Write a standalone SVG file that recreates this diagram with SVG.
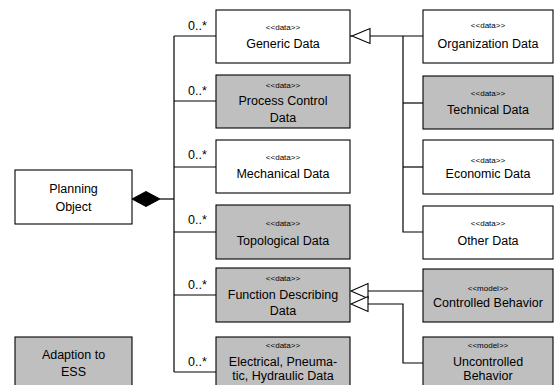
<svg xmlns="http://www.w3.org/2000/svg" width="555" height="385" viewBox="0 0 555 385">
<style>
.box{fill:#ffffff;stroke:#000;stroke-width:1.1}
.gray{fill:#bfbfbf}
.ln{fill:none;stroke:#000;stroke-width:1.2}
.gen{fill:#fff;stroke:#000;stroke-width:1.1}
.dia{fill:#000;stroke:#000;stroke-width:1}
text{font-family:"Liberation Sans",Arial,sans-serif;fill:#000;text-anchor:middle}
.st{font-size:8px}
.t{font-size:12.5px}
.m{font-size:12.5px;text-anchor:start}
</style>
<rect width="555" height="385" fill="#fff"/>
<g id="connectors">
<polygon class="dia" points="132,199 146,191.5 160,199 146,206.5"/>
<polyline class="ln" points="160,199 174,199"/>
<polyline class="ln" points="174,36 174,372"/>
<polyline class="ln" points="174,36 216,36"/>
<polyline class="ln" points="174,101 216,101"/>
<polyline class="ln" points="174,167 216,167"/>
<polyline class="ln" points="174,232 216,232"/>
<polyline class="ln" points="174,295 216,295"/>
<polyline class="ln" points="174,372 216,372"/>
<text class="m" x="188" y="30">0..*</text>
<text class="m" x="188" y="95">0..*</text>
<text class="m" x="188" y="159">0..*</text>
<text class="m" x="188" y="224">0..*</text>
<text class="m" x="188" y="289">0..*</text>
<text class="m" x="188" y="366">0..*</text>
<polyline class="ln" points="340,36 352,36"/>
<polyline class="ln" points="370,36 423,36"/>
<polyline class="ln" points="403,36 403,232 423,232"/>
<polyline class="ln" points="403,103 423,103"/>
<polyline class="ln" points="403,167 423,167"/>
<polygon class="gen" points="352,36 370,28.5 370,43.5"/>
<polyline class="ln" points="368,291 423,291"/>
<polyline class="ln" points="368,304 403,304 403,363 423,363"/>
<polygon class="gen" points="351,291 368,283.5 368,298.5"/>
<polygon class="gen" points="351,304 368,296.5 368,311.5"/>
</g>
<g id="planning-object">
<rect class="box" x="15" y="170" width="117" height="54"/>
<text class="t" x="73.5" y="192.5">Planning</text>
<text class="t" x="73.5" y="210.5">Object</text>
</g>
<g id="adaption-to-ess">
<rect class="box gray" x="15" y="337" width="117" height="55"/>
<text class="t" x="73.5" y="359">Adaption to</text>
<text class="t" x="73.5" y="376">ESS</text>
</g>
<g id="generic-data">
<rect class="box" x="216" y="10" width="134" height="53"/>
<text class="st" x="283" y="29.5">&lt;&lt;data&gt;&gt;</text>
<text class="t" x="283" y="47.5">Generic Data</text>
</g>
<g id="process-control-data">
<rect class="box gray" x="216" y="75" width="134" height="53"/>
<text class="st" x="283" y="88">&lt;&lt;data&gt;&gt;</text>
<text class="t" x="283" y="104.5">Process Control</text>
<text class="t" x="283" y="121.5">Data</text>
</g>
<g id="mechanical-data">
<rect class="box" x="216" y="140" width="134" height="53"/>
<text class="st" x="283" y="160">&lt;&lt;data&gt;&gt;</text>
<text class="t" x="283" y="178">Mechanical Data</text>
</g>
<g id="topological-data">
<rect class="box gray" x="216" y="205" width="134" height="54"/>
<text class="st" x="283" y="226">&lt;&lt;data&gt;&gt;</text>
<text class="t" x="283" y="244.5">Topological  Data</text>
</g>
<g id="function-describing-data">
<rect class="box gray" x="216" y="268" width="134" height="54"/>
<text class="st" x="283" y="281">&lt;&lt;data&gt;&gt;</text>
<text class="t" x="283" y="298.5">Function Describing</text>
<text class="t" x="283" y="314.5">Data</text>
</g>
<g id="electrical-data">
<rect class="box gray" x="216" y="337" width="134" height="55"/>
<text class="st" x="283" y="347.5">&lt;&lt;data&gt;&gt;</text>
<text class="t" x="283" y="366">Electrical, Pneuma-</text>
<text class="t" x="283" y="380">tic, Hydraulic Data</text>
</g>
<g id="organization-data">
<rect class="box" x="423" y="10" width="130" height="53"/>
<text class="st" x="488" y="28">&lt;&lt;data&gt;&gt;</text>
<text class="t" x="488" y="47.5">Organization Data</text>
</g>
<g id="technical-data">
<rect class="box gray" x="423" y="76" width="130" height="53"/>
<text class="st" x="488" y="96">&lt;&lt;data&gt;&gt;</text>
<text class="t" x="488" y="113.5">Technical Data</text>
</g>
<g id="economic-data">
<rect class="box" x="423" y="140" width="130" height="54"/>
<text class="st" x="488" y="163">&lt;&lt;data&gt;&gt;</text>
<text class="t" x="488" y="178">Economic Data</text>
</g>
<g id="other-data">
<rect class="box" x="423" y="206" width="130" height="53"/>
<text class="st" x="488" y="226">&lt;&lt;data&gt;&gt;</text>
<text class="t" x="488" y="245">Other Data</text>
</g>
<g id="controlled-behavior">
<rect class="box gray" x="423" y="269" width="130" height="53"/>
<text class="st" x="488" y="291">&lt;&lt;model&gt;&gt;</text>
<text class="t" x="488" y="307">Controlled Behavior</text>
</g>
<g id="uncontrolled-behavior">
<rect class="box gray" x="423" y="337" width="130" height="55"/>
<text class="st" x="488" y="347.5">&lt;&lt;model&gt;&gt;</text>
<text class="t" x="488" y="366">Uncontrolled</text>
<text class="t" x="488" y="380">Behavior</text>
</g>
</svg>
